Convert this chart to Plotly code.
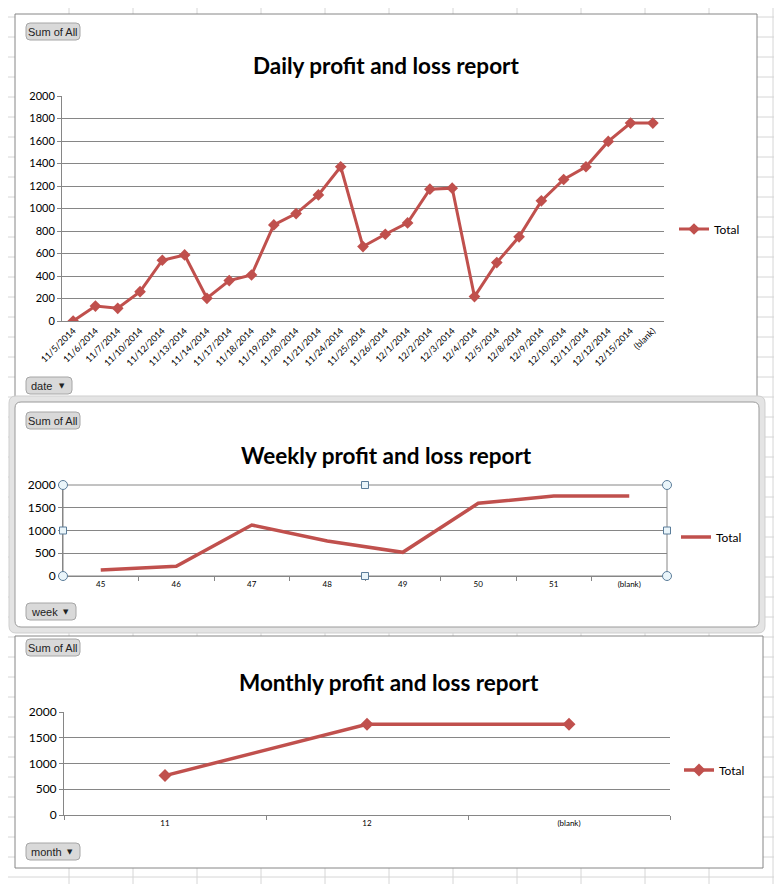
import plotly.graph_objects as go

W, H = 782, 884
OFF = 8  # page body margin of the rendered html
RED = "#C0504D"
GRID = "#868686"
FONT = "Lato"

# ---------------- data ----------------
daily_dates = ["11/5/2014", "11/6/2014", "11/7/2014", "11/10/2014", "11/12/2014",
               "11/13/2014", "11/14/2014", "11/17/2014", "11/18/2014", "11/19/2014",
               "11/20/2014", "11/21/2014", "11/24/2014", "11/25/2014", "11/26/2014",
               "12/1/2014", "12/2/2014", "12/3/2014", "12/4/2014", "12/5/2014",
               "12/8/2014", "12/9/2014", "12/10/2014", "12/11/2014", "12/12/2014",
               "12/15/2014", "(blank)"]
daily_total = [0, 133, 113, 261, 540, 587, 202, 359, 409, 854, 955, 1121, 1371,
               662, 771, 872, 1172, 1181, 217, 519, 748, 1068, 1258, 1371, 1596,
               1759, 1759]

week_labels = ["45", "46", "47", "48", "49", "50", "51", "(blank)"]
week_total = [132, 213, 1121, 770, 520, 1598, 1760, 1760]

month_labels = ["11", "12", "(blank)"]
month_total = [765, 1760, 1760]

titles = ["Daily profit and loss report", "Weekly profit and loss report",
          "Monthly profit and loss report"]
field_buttons = ["date", "week", "month"]


def X(p):
    return (p - OFF) / W


def Y(p):
    return 1 - (p - OFF) / H


def rrect(x0, y0, x1, y1, r):
    rx, ry = r / W, r / H
    a, b, c, d = X(x0), Y(y0), X(x1), Y(y1)
    return (f"M{a+rx},{b} L{c-rx},{b} Q{c},{b} {c},{b-ry} L{c},{d+ry} Q{c},{d} {c-rx},{d} "
            f"L{a+rx},{d} Q{a},{d} {a},{d+ry} L{a},{b-ry} Q{a},{b} {a+rx},{b} Z")


fig = go.Figure()

# ---------------- traces ----------------
fig.add_trace(go.Scatter(x=daily_dates, y=daily_total, mode="lines+markers", name="Total",
                         line=dict(color=RED, width=3),
                         marker=dict(symbol="diamond", size=9, color=RED),
                         xaxis="x", yaxis="y", legend="legend"))
fig.add_trace(go.Scatter(x=week_labels, y=week_total, mode="lines", name="Total",
                         line=dict(color=RED, width=3.5),
                         xaxis="x2", yaxis="y2", legend="legend2"))
fig.add_trace(go.Scatter(x=month_labels, y=month_total, mode="lines+markers", name="Total",
                         line=dict(color=RED, width=3.5),
                         marker=dict(symbol="diamond", size=10, color=RED),
                         xaxis="x3", yaxis="y3", legend="legend3"))

# plot areas in pixels
areas = [(62, 96, 664, 321), (63, 485, 667, 576), (64, 712, 670, 815)]

shapes = []
# spreadsheet grid
path = ""
for k in range(13):
    xp = 5 + 64 * k
    path += f"M{X(xp)},0 L{X(xp)},1 "
for k in range(45):
    yp = 17 + 20 * k
    path += f"M0,{Y(yp)} L1,{Y(yp)} "
shapes.append(dict(type="path", xref="paper", yref="paper", path=path,
                   line=dict(color="#d6d6d6", width=1), layer="below"))
# chart boxes
shapes.append(dict(type="rect", xref="paper", yref="paper", x0=X(15), y0=Y(14), x1=X(757), y1=Y(398),
                   fillcolor="white", line=dict(color=GRID, width=1), layer="below"))
shapes.append(dict(type="rect", xref="paper", yref="paper", x0=X(15), y0=Y(636), x1=X(763), y1=Y(868),
                   fillcolor="white", line=dict(color=GRID, width=1), layer="below"))
shapes.append(dict(type="path", xref="paper", yref="paper", path=rrect(9, 396, 765, 633, 7),
                   fillcolor="#e4e4e4", line=dict(color="#cfcfcf", width=1), layer="below"))
shapes.append(dict(type="path", xref="paper", yref="paper", path=rrect(15, 402, 759, 627, 6),
                   fillcolor="white", line=dict(color="#9a9a9a", width=1), layer="below"))

# weekly plot-area selection frame
wa = areas[1]
shapes.append(dict(type="rect", xref="paper", yref="paper", x0=X(wa[0]), y0=Y(wa[1]), x1=X(wa[2]), y1=Y(wa[3]),
                   line=dict(color=GRID, width=1), layer="below"))
xm = (wa[0] + wa[2]) / 2
ym = (wa[1] + wa[3]) / 2
for (hx, hy, kind) in [(wa[0], wa[1], "c"), (xm, wa[1], "s"), (wa[2], wa[1], "c"),
                       (wa[0], ym, "s"), (wa[2], ym, "s"),
                       (wa[0], wa[3], "c"), (xm, wa[3], "s"), (wa[2], wa[3], "c")]:
    r = 4.5 if kind == "c" else 3.5
    shapes.append(dict(type="circle" if kind == "c" else "rect", xref="paper", yref="paper",
                       x0=X(hx - r), x1=X(hx + r), y0=Y(hy - r), y1=Y(hy + r),
                       fillcolor="#eaf5fa", line=dict(color="#5b7d9a", width=1), layer="above"))

annotations = []
# buttons
sum_btn_y = [23, 412, 639]
field_btn_y = [377, 603, 843]
field_btn_w = [46, 50, 54]
BTN_FONT = dict(family="Liberation Sans", size=11, color="#222")
for i in range(3):
    y0 = sum_btn_y[i]
    shapes.append(dict(type="path", xref="paper", yref="paper", path=rrect(26, y0, 80, y0 + 17, 4),
                       fillcolor="#d9d9d9", line=dict(color="#a6a6a6", width=1), layer="below"))
    annotations.append(dict(x=X(53), y=Y(y0 + 8.5), xref="paper", yref="paper", text="Sum of All",
                            xanchor="center", yanchor="middle",
                            showarrow=False, font=BTN_FONT))
    y1 = field_btn_y[i]
    w = field_btn_w[i]
    shapes.append(dict(type="path", xref="paper", yref="paper", path=rrect(26, y1, 26 + w, y1 + 17, 4),
                       fillcolor="#d9d9d9", line=dict(color="#a6a6a6", width=1), layer="below"))
    annotations.append(dict(x=X(29), y=Y(y1 + 8.5), xref="paper", yref="paper",
                            text=field_buttons[i], xanchor="left", yanchor="middle",
                            showarrow=False, font=BTN_FONT))
    annotations.append(dict(x=X(26 + w - 5), y=Y(y1 + 8.5), xref="paper", yref="paper",
                            text="▼", xanchor="right", yanchor="middle",
                            showarrow=False, font=dict(family="DejaVu Sans", size=7, color="#222")))

# titles
title_pos = [(386, 66), (386, 455), (389, 682)]
for t, (tx, ty) in zip(titles, title_pos):
    annotations.append(dict(x=X(tx), y=Y(ty), xref="paper", yref="paper", text=t, showarrow=False,
                            xanchor="center", yanchor="middle",
                            font=dict(family=FONT, size=22.5, color="black", weight="bold")))

ax_common = dict(type="category", showgrid=False, showline=True, linecolor=GRID, linewidth=1,
                 zeroline=False, tickcolor=GRID, automargin=False,
                 tickfont=dict(family=FONT, color="black"))
ay_common = dict(range=[0, 2000], showgrid=True, gridcolor=GRID, gridwidth=1, showline=True,
                 linecolor=GRID, linewidth=1, zeroline=False, ticks="outside", ticklen=4,
                 tickcolor=GRID, automargin=False,
                 tickfont=dict(family=FONT, size=12, color="black"))

legend_y = [229, 537, 770]
legend_x = [674, 676, 679]
legends = {}
for i, key in enumerate(["legend", "legend2", "legend3"]):
    legends[key] = dict(x=X(legend_x[i]), y=Y(legend_y[i]), xanchor="left", yanchor="middle",
                        xref="paper", yref="paper", bgcolor="rgba(0,0,0,0)",
                        font=dict(family=FONT, size=12, color="black"), itemwidth=30)

d0 = areas[0]
d2 = areas[2]
fig.update_layout(
    width=W, height=H, margin=dict(l=0, r=0, t=0, b=0, pad=0, autoexpand=False),
    paper_bgcolor="white", plot_bgcolor="rgba(0,0,0,0)",
    showlegend=True,
    xaxis=dict(ax_common, domain=[X(d0[0]), X(d0[2])], anchor="y", range=[-0.5, len(daily_dates) - 0.5],
               tickangle=-45, ticks="", tickfont=dict(family=FONT, size=9, color="black")),
    yaxis=dict(ay_common, domain=[Y(d0[3]), Y(d0[1])], anchor="x", dtick=200,
               tickfont=dict(family=FONT, size=11, color="black")),
    xaxis2=dict(ax_common, domain=[X(wa[0]), X(wa[2])], anchor="y2", range=[-0.5, len(week_labels) - 0.5],
                ticks="outside", tickson="boundaries", ticklen=4, tickangle=0,
                tickfont=dict(family=FONT, size=8, color="black")),
    yaxis2=dict(ay_common, domain=[Y(wa[3]), Y(wa[1])], anchor="x2", dtick=500),
    xaxis3=dict(ax_common, domain=[X(d2[0]), X(d2[2])], anchor="y3", range=[-0.5, len(month_labels) - 0.5],
                ticks="outside", tickson="boundaries", ticklen=4, tickangle=0,
                tickfont=dict(family=FONT, size=8, color="black")),
    yaxis3=dict(ay_common, domain=[Y(d2[3]), Y(d2[1])], anchor="x3", dtick=500),
    shapes=shapes, annotations=annotations,
    **legends,
)

fig.write_html("out.html")
